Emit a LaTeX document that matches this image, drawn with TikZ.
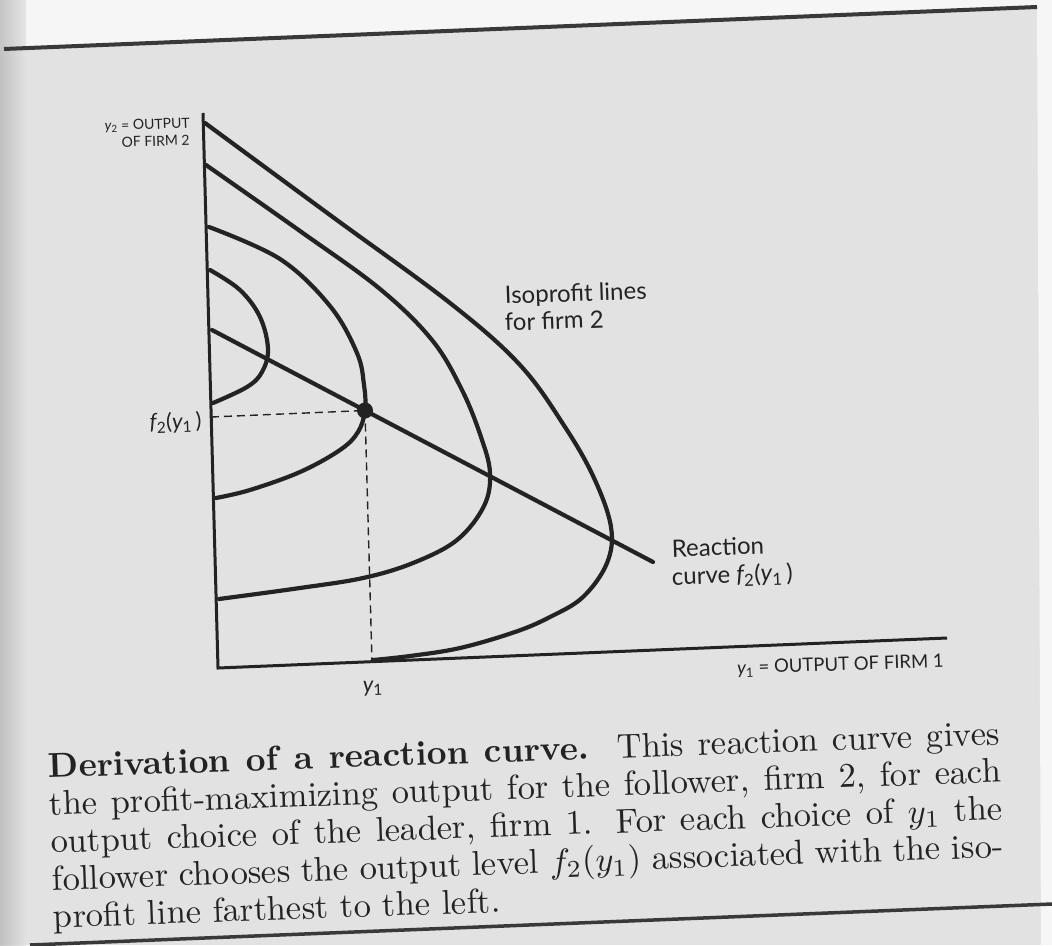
\documentclass[tikz,border=0pt]{standalone}
\usepackage{fontspec}
\newfontfamily\labfont{Lato}
\newfontfamily\capfont{lmroman10-regular.otf}[BoldFont=lmroman10-bold.otf, ItalicFont=lmroman10-italic.otf]
\definecolor{paper}{RGB}{226,226,226}
\definecolor{paperwhite}{RGB}{246,246,246}
\definecolor{ink}{RGB}{35,35,35}
\newcommand\ysub[1]{{\itshape y}\textsubscript{\upshape #1}}
\newcommand\fsub[1]{{\itshape f}\textsubscript{\upshape #1}}
\tikzset{
  isocurve/.style={line width=4.2pt, draw=ink, line cap=round, line join=round},
  axisline/.style={line width=3pt, draw=ink, line join=miter},
  guideline/.style={line width=1.4pt, draw=ink, dash pattern=on 8pt off 5pt},
  tinylab/.style={font=\labfont\fontsize{14}{14}\selectfont, text=ink, inner sep=0pt, rotate=2},
  smalllab/.style={font=\labfont\fontsize{18.5}{18.5}\selectfont, text=ink, inner sep=0pt, rotate=2},
  midlab/.style={font=\labfont\fontsize{24}{24}\selectfont, text=ink, inner sep=0pt, rotate=2},
  varlab/.style={font=\labfont\fontsize{22}{22}\selectfont, text=ink, inner sep=0pt, rotate=2},
  captionline/.style={font=\capfont\fontsize{10}{12}\selectfont, text=ink, inner sep=0pt, anchor=base west, scale=3.45},
  rulestyle/.style={line width=4pt, draw=ink!90}
}
\begin{document}
\begin{tikzpicture}[x=1pt, y=-1pt]
\useasboundingbox (0,0) rectangle (1052,945);
% paper
\fill[paper] (0,0) rectangle (1052,945);
\fill[paperwhite] (0,0) -- (1052,0) -- (1052,7) -- (0,50) -- cycle;
\fill[paperwhite] (1037,0) -- (1052,0) -- (1052,945) -- (1041,945) -- cycle;
\shade[left color=gray!55, right color=paper, opacity=0.8] (0,0) rectangle (26,945);
% rules
\draw[rulestyle] (4,49) -- (1037,7);
\draw[rulestyle, line width=3.5pt] (30,945) -- (1052,904);

% axes
\coordinate (ytop) at (203,113);
\coordinate (orig) at (218,668);
\coordinate (xend) at (947,638);
\draw[axisline] (ytop) -- (orig) -- (xend);

% isoprofit curves
\draw[isocurve] plot[smooth, tension=0.6] coordinates {(205,123) (330,215) (450,303) (520,365) (565,427) (594,478) (611,527) (607,563) (583,597) (550,617) (515,632) (460,648) (410,656) (373,660)};
\draw[isocurve] plot[smooth, tension=0.6] coordinates {(206,165) (300,231) (380,289) (432,340) (462,390) (481,437) (490,473) (484,506) (457,540) (413,563) (363,578) (300,588) (219,599)};
\draw[isocurve] plot[smooth, tension=0.6] coordinates {(209,227) (280,259) (330,306) (357,353) (364,385) (365,410) (358,432) (340,450) (300,472) (250,490) (216,498)};
\draw[isocurve] plot[smooth, tension=0.6] coordinates {(210,270) (240,290) (260,317) (268,349) (262,372) (247,387) (213,403)};

% reaction curve
\coordinate (rstart) at (212,330);
\coordinate (rend) at (653,562);
\draw[isocurve] (rstart) -- (rend);
\node[circle, fill=ink, minimum size=16pt, inner sep=0pt] (eq) at (365,410.5) {};

% dashed guides
\coordinate (fy) at (211,417);
\coordinate (xy) at (372,662);
\draw[guideline] (fy) -- (eq.center);
\draw[guideline] (eq.center) -- (xy);

% labels
\node[tinylab, anchor=base east] (ylab1) at (190,128) {\ysub{2} = OUTPUT};
\node[tinylab, anchor=base east] (ylab2) at (190,145) {OF FIRM 2};
\node[varlab, anchor=base east] (flab) at (202,428) {\fsub{2}(\ysub{1}\,)};
\node[varlab, anchor=base] (y1lab) at (373,692) {\ysub{1}};
\node[midlab, anchor=base west] (iso1) at (505,304) {Isoprofit lines};
\node[midlab, anchor=base west] (iso2) at (505,331) {for firm 2};
\node[midlab, anchor=base west] (rc1) at (672,557) {Reaction};
\node[midlab, anchor=base west] (rc2) at (672,585) {curve \fsub{2}(\ysub{1}\,)};
\node[smalllab, anchor=base east] (xlab) at (944,667) {\ysub{1} = OUTPUT OF FIRM 1};

% caption
\begin{scope}[shift={(48,778)}, rotate=2, transform shape]
\node[captionline] (c1) at (0,0) {\makebox[275.9pt][s]{\textbf{Derivation of a reaction curve.}\ \ This reaction curve gives}};
\node[captionline] (c2) at (0,37.5) {\makebox[275.9pt][s]{the profit-maximizing output for the follower, firm 2, for each}};
\node[captionline] (c3) at (0,75) {\makebox[275.9pt][s]{output choice of the leader, firm 1. For each choice of $y_1$ the}};
\node[captionline] (c4) at (0,112.5) {\makebox[275.9pt][s]{follower chooses the output level $f_2(y_1)$ associated with the iso-}};
\node[captionline] (c5) at (0,150) {profit line farthest to the left.};
\end{scope}
\end{tikzpicture}
\end{document}
